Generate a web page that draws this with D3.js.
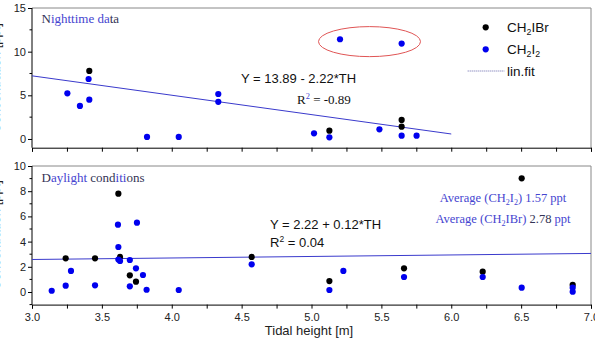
<!DOCTYPE html>
<html><head><meta charset="utf-8">
<script src="https://cdn.jsdelivr.net/npm/d3@7"></script>
<style>body{margin:0;background:#fff}svg{display:block}</style>
</head><body>
<svg id="c" width="595" height="341"></svg>
<script>
// ---- data ----
const nightIBr_x = [3.41, 5.128, 5.645, 5.645];
const nightIBr_y = [7.79, 0.95, 2.18, 1.41];
const nightI2_x = [3.253, 3.343, 3.405, 3.41, 3.823, 4.05, 4.333, 4.333, 5.018, 5.128, 5.204, 5.486, 5.645, 5.645, 5.752];
const nightI2_y = [5.23, 3.78, 6.87, 4.5, 0.23, 0.23, 5.15, 4.25, 0.65, 0.19, 11.42, 1.11, 10.92, 0.38, 0.38];
const dayIBr_x = [3.241, 3.451, 3.618, 3.63, 3.70, 3.744, 4.572, 5.128, 5.662, 6.225, 6.504, 6.869];
const dayIBr_y = [2.67, 2.67, 7.8, 2.78, 1.32, 0.82, 2.78, 0.87, 1.88, 1.61, 9.02, 0.56];
const dayI2_x = [3.141, 3.241, 3.279, 3.451, 3.615, 3.618, 3.618, 3.63, 3.70, 3.70, 3.751, 3.744, 3.794, 3.82, 4.05, 4.572, 5.128, 5.228, 5.662, 6.225, 6.504, 6.869, 6.869];
const dayI2_y = [0.10, 0.50, 1.67, 0.53, 5.34, 3.57, 2.57, 2.46, 2.54, 0.45, 5.5, 1.88, 1.35, 0.18, 0.16, 2.2, 0.16, 1.67, 1.19, 1.19, 0.34, 0.34, 0.02];
const nightFit = {a: 13.89, b: -2.22, x0: 3.0, x1: 6.0};
const dayFit = {a: 2.22, b: 0.12, x0: 3.0, x1: 7.0};
const xTicks = [3.0, 3.5, 4.0, 4.5, 5.0, 5.5, 6.0, 6.5, 7.0];
const nightYTicks = [0, 5, 10, 15];
const dayYTicks = [0, 2, 4, 6, 8, 10];

// ---- layout ----
const svg = d3.select("#c");
const X0 = 32, X1 = 591;
const x = d3.scaleLinear().domain([3, 7]).range([X0, X1]);
const yN = d3.scaleLinear().domain([-1, 15]).range([147.7, 8]);
const yD = d3.scaleLinear().domain([-1, 10]).range([304.6, 166]);
const BLUE = "#0000ee", SANS = "'Liberation Sans', Arial, sans-serif", SERIF = "'Liberation Serif', 'Times New Roman', serif";

function panel(y, yt, minorStep, xLabels) {
  const [yb, ytop] = y.range();
  svg.append("path").attr("d", `M${X0},${ytop}H${X1}V${yb}`).attr("fill", "none").attr("stroke", "#888").attr("stroke-width", 1);
  const xa = d3.axisBottom(x).tickValues(d3.range(3, 7.001, 0.25)).tickSize(4)
    .tickFormat(d => (xLabels && xTicks.some(t => Math.abs(t - d) < 1e-6)) ? d3.format(".1f")(d) : "");
  const gx = svg.append("g").attr("transform", `translate(0,${yb})`).call(xa);
  gx.select(".domain").attr("stroke", "#000");
  gx.selectAll("text").attr("font-family", SANS).attr("font-size", 11).attr("fill", "#222").attr("dy", "0.9em");
  const ya = d3.axisLeft(y).tickValues(yt).tickSize(4).tickFormat(d3.format("d"));
  const gy = svg.append("g").attr("transform", `translate(${X0},0)`).call(ya);
  gy.select(".domain").attr("d", `M0,${yb}V${ytop}`).attr("stroke", "#000");
  gy.selectAll("text").attr("font-family", SANS).attr("font-size", 11).attr("fill", "#222").attr("x", -6);
  const d = y.domain();
  const minors = d3.range(Math.ceil(d[0] / minorStep) * minorStep, d[1] + 1e-6, minorStep).filter(v => !yt.includes(v));
  svg.append("g").selectAll("line").data(minors).join("line")
    .attr("x1", X0 - 2.5).attr("x2", X0).attr("y1", v => y(v)).attr("y2", v => y(v)).attr("stroke", "#000");
}
panel(yN, nightYTicks, 2.5, false);
panel(yD, dayYTicks, 1, true);

function fit(f, y) {
  svg.append("line").attr("x1", x(f.x0)).attr("x2", x(f.x1))
    .attr("y1", y(f.a + f.b * f.x0)).attr("y2", y(f.a + f.b * f.x1))
    .attr("stroke", "#3a3acc").attr("stroke-width", 1);
}
fit(nightFit, yN);
fit(dayFit, yD);

function dots(xs, ys, y, color) {
  svg.append("g").selectAll("circle").data(xs.map((v, i) => [v, ys[i]])).join("circle")
    .attr("cx", d => x(d[0])).attr("cy", d => y(d[1])).attr("r", 3.1).attr("fill", color);
}
dots(nightIBr_x, nightIBr_y, yN, "#000");
dots(nightI2_x, nightI2_y, yN, BLUE);
dots(dayIBr_x, dayIBr_y, yD, "#000");
dots(dayI2_x, dayI2_y, yD, BLUE);

svg.append("ellipse").attr("cx", x(5.415)).attr("cy", yN(11.15))
  .attr("rx", x(5.415 + 0.365) - x(5.415)).attr("ry", yN(11.15 - 1.72) - yN(11.15))
  .attr("fill", "none").attr("stroke", "#e05555").attr("stroke-width", 1);

function rich(xp, yp, parts, font, size, anchor) {
  const t = svg.append("text").attr("x", xp).attr("y", yp).attr("font-family", font).attr("font-size", size)
    .attr("text-anchor", anchor || "start");
  parts.forEach(p => {
    const s = t.append("tspan").text(p[0]).attr("fill", p[1] || "#111");
    if (p[2] === "sub") s.attr("font-size", size * 0.65).attr("dy", 3);
    if (p[2] === "sup") s.attr("font-size", size * 0.65).attr("dy", -5);
    if (p[2] === "back") s.attr("dy", p[3]);
  });
  return t;
}
const DB = "#4545d0", DK = "#333355";
rich(41.5, 23, [["N", DK], ["ighttime da", DB], ["ta", DK]], SERIF, 13);
rich(41.5, 181.5, [["D", DK], ["aylight", DB], [" cond", DK], ["iti", DB], ["ons", DK]], SERIF, 13);

rich(241, 83, [["Y = 13.89 - 2.22*TH", "#111"]], SANS, 13);
rich(297, 104, [["R", "#111"], ["2", DB, "sup"], [" = -0.89", "#111", "back", 5]], SERIF, 13);
rich(270, 229, [["Y = 2.22 + 0.12*TH", "#111"]], SANS, 13);
rich(270, 246.5, [["R", "#111"], ["2", "#111", "sup"], [" = 0.04", "#111", "back", 5]], SANS, 13);

rich(503, 201.5, [["Average (CH", DB], ["2", DB, "sub"], ["I", DB, "back", -3], ["2", DB, "sub"], [") 1.57 ppt", DB, "back", -3]], SERIF, 12.5, "middle");
rich(503, 222.5, [["Average (CH", DB], ["2", DB, "sub"], ["IBr) ", DB, "back", -3], ["2.78", DK], [" ppt", DB]], SERIF, 12.5, "middle");

svg.append("circle").attr("cx", 485.7).attr("cy", 27.3).attr("r", 3.1).attr("fill", "#000");
svg.append("circle").attr("cx", 485.7).attr("cy", 49.3).attr("r", 3.1).attr("fill", BLUE);
svg.append("line").attr("x1", 467.7).attr("x2", 504.3).attr("y1", 71).attr("y2", 71)
  .attr("stroke", "#6666aa").attr("stroke-width", 1).attr("stroke-dasharray", "1,1");
rich(507, 32, [["CH", "#111"], ["2", "#111", "sub"], ["IBr", "#111", "back", -3]], SANS, 13.5);
rich(507, 54, [["CH", "#111"], ["2", "#111", "sub"], ["I", "#111", "back", -3], ["2", "#111", "sub"]], SANS, 13.5);
rich(507, 76, [["lin.fit", "#111"]], SANS, 13.5);

svg.append("text").attr("x", 309).attr("y", 335).attr("text-anchor", "middle")
  .attr("font-family", SANS).attr("font-size", 13).attr("fill", "#222").text("Tidal height [m]");

// y titles (mostly cut off at left edge, as in the reference)
[[78, "Concentration [ppt]"], [235, "Concentration [ppt]"]].forEach(([cy, s]) => {
  svg.append("text").attr("transform", `translate(-0.5,${cy}) rotate(-90)`).attr("text-anchor", "middle")
    .attr("font-family", SANS).attr("font-size", 13).attr("fill", "#222").text(s);
});
</script>
</body></html>
